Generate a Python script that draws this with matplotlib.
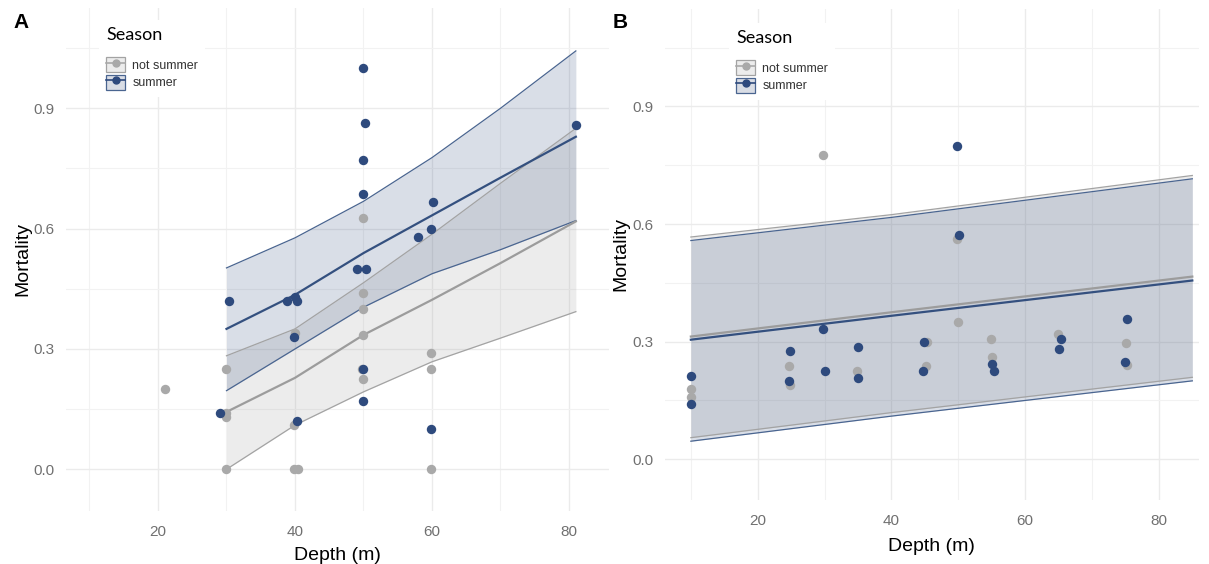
import matplotlib.pyplot as plt
from matplotlib.lines import Line2D
from matplotlib.patches import Patch
from matplotlib.legend_handler import HandlerTuple
from matplotlib.ticker import MultipleLocator

plt.rcParams['font.family'] = ['Liberation Sans', 'DejaVu Sans']

BLUE = '#2e4a7d'
GREY = '#a9a9a9'
BLUE_FILL = '#d9dde5'
GREY_FILL = '#ececec'
BLUE_EDGE = '#4a6590'
GREY_EDGE = '#a3a3a3'

seasons = ['not summer', 'summer']

# Panel A: observed mortality by depth
a_ns_depth = [21, 30, 30, 30, 30, 40, 39.9, 39.9, 40.5, 50, 50, 50, 50, 50, 49.8, 59.8, 59.8, 59.8]
a_ns_mort = [0.20, 0.25, 0.14, 0.13, 0.0, 0.34, 0.11, 0.0, 0.0, 0.626, 0.44, 0.40, 0.335, 0.224, 0.25, 0.29, 0.25, 0.0]
a_s_depth = [29, 30.3, 38.8, 40, 40.3, 39.9, 40.3, 49, 50.3, 50, 50.2, 49.9, 49.9, 50, 50, 57.9, 59.8, 60.1, 59.8, 81]
a_s_mort = [0.14, 0.42, 0.42, 0.43, 0.42, 0.33, 0.12, 0.50, 0.50, 1.0, 0.864, 0.77, 0.687, 0.25, 0.17, 0.58, 0.60, 0.667, 0.10, 0.858]

# Panel A: fitted curves with confidence bands
a_fit_depth = [30, 40, 50, 60, 70, 81]
a_ns_fit = [0.143, 0.228, 0.335, 0.4225, 0.514, 0.618]
a_ns_lo = [0.0, 0.11, 0.193, 0.268, 0.327, 0.393]
a_ns_hi = [0.283, 0.35, 0.465, 0.586, 0.713, 0.85]
a_s_fit = [0.35, 0.435, 0.539, 0.633, 0.727, 0.829]
a_s_lo = [0.196, 0.30, 0.404, 0.4875, 0.5475, 0.62]
a_s_hi = [0.502, 0.577, 0.668, 0.777, 0.90, 1.043]

# Panel B: observed mortality by depth
b_ns_depth = [29.7, 10, 10, 24.7, 24.8, 34.9, 45.3, 45.1, 49.9, 49.75, 54.9, 55.1, 64.9, 75.1, 75.3]
b_ns_mort = [0.775, 0.179, 0.158, 0.238, 0.19, 0.224, 0.30, 0.239, 0.35, 0.563, 0.308, 0.26, 0.319, 0.296, 0.241]
b_s_depth = [29.7, 10, 10, 24.8, 24.7, 30.1, 35, 35, 44.8, 44.7, 49.75, 50.1, 55.1, 55.3, 65.3, 65.1, 75.2, 74.9]
b_s_mort = [0.332, 0.213, 0.141, 0.275, 0.20, 0.226, 0.287, 0.208, 0.30, 0.226, 0.80, 0.571, 0.243, 0.226, 0.307, 0.281, 0.359, 0.249]

# Panel B: fitted lines with confidence bands
b_fit_depth = [10, 40, 85]
b_ns_fit = [0.313, 0.375, 0.466]
b_ns_lo = [0.055, 0.119, 0.209]
b_ns_hi = [0.567, 0.624, 0.724]
b_s_fit = [0.305, 0.366, 0.456]
b_s_lo = [0.046, 0.11, 0.200]
b_s_hi = [0.558, 0.617, 0.7155]


def draw_panel(ax, ns, s, fit_x, ns_band, s_band, xlim, xlabelpad):
    ns_fit, ns_lo, ns_hi = ns_band
    s_fit, s_lo, s_hi = s_band
    ax.fill_between(fit_x, ns_lo, ns_hi, color=GREY, alpha=0.22, lw=0, zorder=1)
    ax.fill_between(fit_x, s_lo, s_hi, color=BLUE, alpha=0.18, lw=0, zorder=1.1)
    for yy in (ns_lo, ns_hi):
        ax.plot(fit_x, yy, color=GREY_EDGE, lw=0.9, zorder=2)
    for yy in (s_lo, s_hi):
        ax.plot(fit_x, yy, color=BLUE_EDGE, lw=0.9, zorder=2)
    ax.plot(fit_x, ns_fit, color='#9c9c9c', lw=1.6, zorder=3)
    ax.plot(fit_x, s_fit, color='#34507f', lw=1.6, zorder=3)
    ax.scatter(ns[0], ns[1], s=46, color=GREY, lw=0, zorder=4)
    ax.scatter(s[0], s[1], s=46, color=BLUE, lw=0, zorder=5)

    ax.set_xlim(*xlim)
    ax.set_ylim(-0.104, 1.15)
    ax.xaxis.set_major_locator(MultipleLocator(20))
    ax.xaxis.set_minor_locator(MultipleLocator(10))
    ax.yaxis.set_major_locator(MultipleLocator(0.3))
    ax.yaxis.set_minor_locator(MultipleLocator(0.15))
    ax.set_yticks([0.0, 0.3, 0.6, 0.9])
    ax.set_yticklabels(['0.0', '0.3', '0.6', '0.9'])
    ax.grid(which='major', color='#ebebeb', lw=1.0)
    ax.grid(which='minor', color='#f2f2f2', lw=0.8)
    ax.set_axisbelow(True)
    for sp in ax.spines.values():
        sp.set_visible(False)
    ax.tick_params(which='both', length=0, labelsize=11, labelcolor='#707070')
    ax.tick_params(axis='x', pad=10)
    ax.tick_params(axis='y', pad=8)
    ax.set_xlabel('Depth (m)', fontsize=14, labelpad=xlabelpad)
    ax.set_ylabel('Mortality', fontsize=14, labelpad=2)


def legend_keys():
    keys = []
    for fill, edge, col in ((GREY_FILL, GREY_EDGE, GREY), (BLUE_FILL, BLUE_EDGE, BLUE)):
        keys.append((Patch(facecolor=fill, edgecolor=edge, lw=0.9),
                     Line2D([], [], color=col, lw=1.2, marker='o', markersize=5)))
    return keys


fig = plt.figure(figsize=(12.09, 5.64), dpi=100)
ax_a = fig.add_axes([66 / 1209, 53 / 564, 543 / 1209, 503 / 564])
ax_b = fig.add_axes([664.5 / 1209, 64 / 564, 534.5 / 1209, 491.5 / 564])

draw_panel(ax_a, (a_ns_depth, a_ns_mort), (a_s_depth, a_s_mort), a_fit_depth,
           (a_ns_fit, a_ns_lo, a_ns_hi), (a_s_fit, a_s_lo, a_s_hi), (6.57, 85.84), 6)
draw_panel(ax_b, (b_ns_depth, b_ns_mort), (b_s_depth, b_s_mort), b_fit_depth,
           (b_ns_fit, b_ns_lo, b_ns_hi), (b_s_fit, b_s_lo, b_s_hi), (6.06, 86.0), 7)

for ax, anchor in ((ax_a, (93 / 1209, 1 - 14 / 564)), (ax_b, (723 / 1209, 1 - 17 / 564))):
    leg = ax.legend(legend_keys(), seasons, title='Season', loc='upper left',
                    bbox_to_anchor=anchor, bbox_transform=fig.transFigure,
                    handler_map={tuple: HandlerTuple(ndivide=1)},
                    frameon=True, facecolor='white', edgecolor='none', framealpha=1,
                    fancybox=False, fontsize=9, alignment='left',
                    handlelength=1.5, handleheight=1.5, labelspacing=0.18,
                    handletextpad=0.6, borderpad=0.55)
    leg.get_title().set_fontsize(13)
    leg.get_title().set_family(['Lato', 'DejaVu Sans'])
    leg._legend_box.sep = 10
    for t in leg.get_texts():
        t.set_color('#333333')

fig.text(13 / 1209, 1 - 22 / 564, 'A', fontsize=15, fontweight='bold', va='center')
fig.text(613 / 1209, 1 - 22 / 564, 'B', fontsize=15, fontweight='bold', va='center')

fig.savefig('out.png', dpi=100)
